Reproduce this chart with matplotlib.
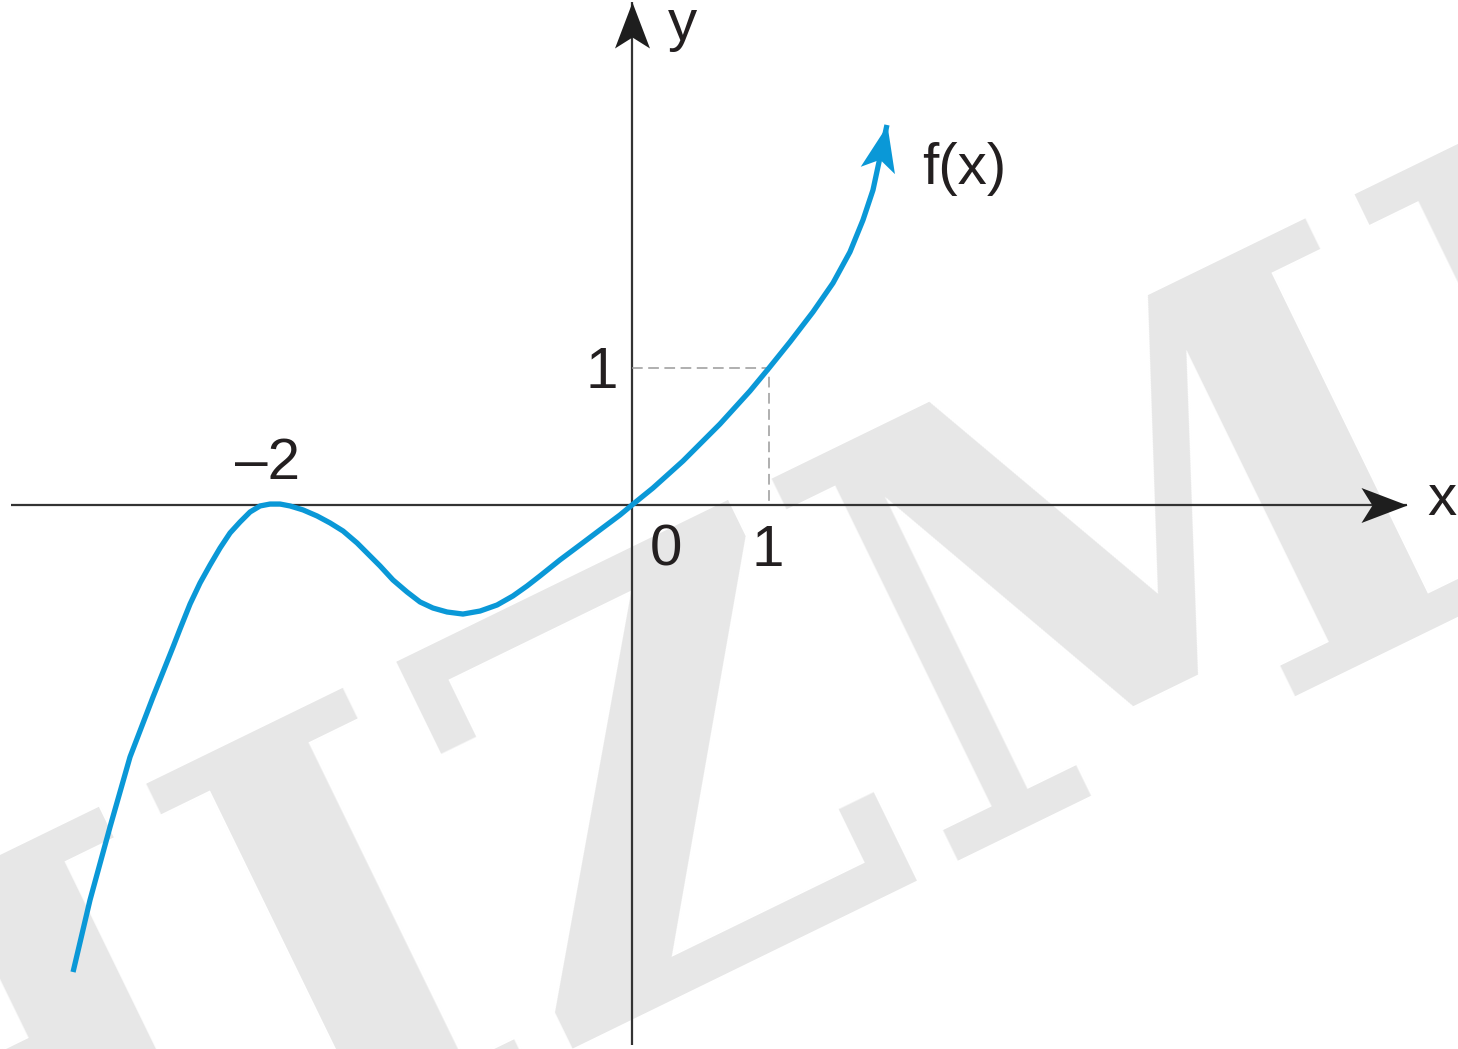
import numpy as np
import matplotlib
matplotlib.use("Agg")
import matplotlib.pyplot as plt
from matplotlib.path import Path

# ---------------- data ----------------
curve_x = [-4.080, -3.956, -3.810, -3.664, -3.496, -3.350, -3.299, -3.226, -3.153,
           -3.080, -3.007, -2.934, -2.861, -2.788, -2.715, -2.642, -2.569, -2.496,
           -2.401, -2.299, -2.204, -2.109, -2.007, -1.912, -1.839, -1.745, -1.642,
           -1.547, -1.453, -1.350, -1.234, -1.109, -0.985, -0.869, -0.766, -0.672,
           -0.526, -0.380, -0.234, -0.088, 0.0, 0.153, 0.372, 0.642, 0.861, 1.0,
           1.153, 1.321, 1.467, 1.591, 1.686, 1.759, 1.861]
curve_y = [-3.409, -2.883, -2.350, -1.839, -1.401, -1.036, -0.905, -0.723, -0.569,
           -0.438, -0.314, -0.204, -0.124, -0.051, -0.007, 0.007, 0.007, -0.007,
           -0.036, -0.080, -0.131, -0.190, -0.277, -0.372, -0.445, -0.547, -0.635,
           -0.708, -0.752, -0.781, -0.796, -0.774, -0.730, -0.664, -0.591, -0.518,
           -0.401, -0.292, -0.182, -0.073, 0.0, 0.124, 0.321, 0.591, 0.832, 1.0,
           1.190, 1.409, 1.620, 1.847, 2.080, 2.299, 2.774]
guide_x = [0.0, 1.0, 1.0]
guide_y = [1.0, 1.0, 0.0]
x_axis_ends = [-4.53, 5.66]
y_axis_ends = [-3.94, 3.67]
tick_labels = ["0", "1", "1", "–2"]
curve_label = "f(x)"
axis_labels = ["x", "y"]
watermark = "HIZMI"

# ---------------- figure ----------------
W, H, DPI = 1458, 1049, 100
fig = plt.figure(figsize=(W / DPI, H / DPI), dpi=DPI)
ax = fig.add_axes([0, 0, 1, 1])
ax.set_xlim(-632 / 137, (W - 632) / 137)
ax.set_ylim((505 - H) / 137, 505 / 137)
ax.axis("off")

FONT = "Liberation Sans"
TXT = "#231f20"
AX = "#333333"
BLUE = "#0a98d7"

# watermark (background)
ax.text(0.49, 0.25, watermark, rotation=26, ha="center", va="center",
        transform=ax.transAxes, fontsize=420, family="DejaVu Serif",
        weight="bold", color="#e7e7e7", zorder=0, clip_on=False)


def arrow_marker(angle_deg):
    verts = np.array([[0, 0], [-46, 17.5], [-35, 0], [-46, -17.5], [0, 0]], float)
    a = np.deg2rad(angle_deg)
    R = np.array([[np.cos(a), -np.sin(a)], [np.sin(a), np.cos(a)]])
    v = verts @ R.T
    codes = [Path.MOVETO, Path.LINETO, Path.LINETO, Path.LINETO, Path.CLOSEPOLY]
    rescale = np.max(np.abs(v))
    return Path(v, codes), 1.44 * rescale


# axes
ax.plot(x_axis_ends, [0, 0], color=AX, lw=1.6, solid_capstyle="butt", zorder=2)
ax.plot([0, 0], y_axis_ends, color=AX, lw=1.6, solid_capstyle="butt", zorder=2)
m, ms = arrow_marker(0)
ax.plot([x_axis_ends[1]], [0], marker=m, ms=ms, mew=0, color="#1e1e1e", zorder=3)
m, ms = arrow_marker(90)
ax.plot([0], [y_axis_ends[1]], marker=m, ms=ms, mew=0, color="#1e1e1e", zorder=3)

# guide dashed lines
ax.plot(guide_x, guide_y, color="#9a9a9a", lw=1.1, dashes=(7.0, 3.6), zorder=2)

# curve
ax.plot(curve_x, curve_y, color=BLUE, lw=3.8, solid_joinstyle="round",
        solid_capstyle="butt", zorder=4)
p1 = ax.transData.transform((curve_x[-2], curve_y[-2]))
p2 = ax.transData.transform((curve_x[-1], curve_y[-1]))
ang = np.degrees(np.arctan2(p2[1] - p1[1], p2[0] - p1[0]))
m, ms = arrow_marker(ang)
ax.plot([curve_x[-1]], [curve_y[-1]], marker=m, ms=ms, mew=0, color=BLUE, zorder=5)

# texts
fs = 42
ax.text(0.248, -0.445, tick_labels[0], ha="center", va="baseline", fontsize=fs,
        family=FONT, color=TXT, zorder=6)
ax.text(0.99, -0.445, tick_labels[1], ha="center", va="baseline", fontsize=fs,
        family=FONT, color=TXT, zorder=6)
ax.text(-0.10, 0.854, tick_labels[2], ha="right", va="baseline", fontsize=fs,
        family=FONT, color=TXT, zorder=6)
ax.text(-2.657, 0.190, tick_labels[3], ha="center", va="baseline", fontsize=fs,
        family=FONT, color=TXT, zorder=6)
ax.text(2.117, 2.343, curve_label, ha="left", va="baseline", fontsize=fs,
        family=FONT, color=TXT, zorder=6)
ax.text(5.803, -0.073, axis_labels[0], ha="left", va="baseline", fontsize=fs,
        family=FONT, color=TXT, zorder=6)
ax.text(0.263, 3.394, axis_labels[1], ha="left", va="baseline", fontsize=fs,
        family=FONT, color=TXT, zorder=6)

fig.savefig("out.png", dpi=DPI, facecolor="white")
